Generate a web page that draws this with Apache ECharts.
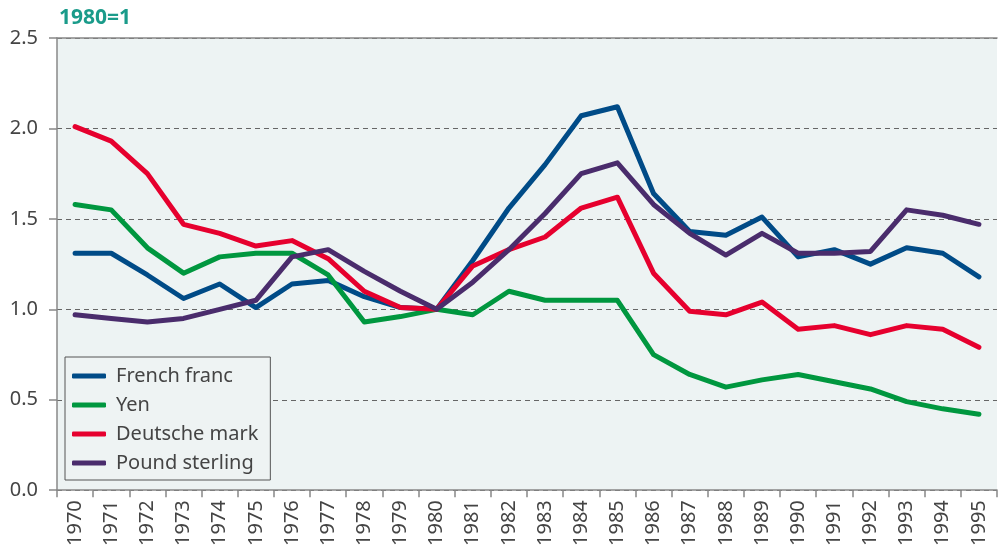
<!DOCTYPE html>
<html>
<head>
<meta charset="utf-8">
<script src="https://cdn.jsdelivr.net/npm/echarts@6/dist/echarts.min.js"></script>
<style>
html,body{margin:0;padding:0;background:#fff;}
#chart{width:1000px;height:549px;}
</style>
</head>
<body>
<div id="chart"></div>
<script>
var years = ['1970','1971','1972','1973','1974','1975','1976','1977','1978','1979','1980','1981','1982','1983','1984','1985','1986','1987','1988','1989','1990','1991','1992','1993','1994','1995'];
var frenchFranc = [1.31,1.31,1.19,1.06,1.14,1.01,1.14,1.16,1.07,1.01,1.00,1.27,1.56,1.80,2.07,2.12,1.64,1.43,1.41,1.51,1.29,1.33,1.25,1.34,1.31,1.18];
var yen = [1.58,1.55,1.34,1.20,1.29,1.31,1.31,1.19,0.93,0.96,1.00,0.97,1.10,1.05,1.05,1.05,0.75,0.64,0.57,0.61,0.64,0.60,0.56,0.49,0.45,0.42];
var deutscheMark = [2.01,1.93,1.75,1.47,1.42,1.35,1.38,1.28,1.10,1.01,1.00,1.24,1.33,1.40,1.56,1.62,1.20,0.99,0.97,1.04,0.89,0.91,0.86,0.91,0.89,0.79];
var poundSterling = [0.97,0.95,0.93,0.95,1.00,1.05,1.29,1.33,1.21,1.10,1.00,1.15,1.33,1.53,1.75,1.81,1.58,1.42,1.30,1.42,1.31,1.31,1.32,1.55,1.52,1.47];
var yTicks = [0, 0.5, 1.0, 1.5, 2.0, 2.5];
var unitLabel = '1980=1';

var seriesDefs = [
  {name:'French franc', data:frenchFranc, color:'#004b87'},
  {name:'Yen', data:yen, color:'#00973f'},
  {name:'Deutsche mark', data:deutscheMark, color:'#e6002e'},
  {name:'Pound sterling', data:poundSterling, color:'#4a2c6c'}
];

var FONT = '"Noto Sans", sans-serif';
var chart = echarts.init(document.getElementById('chart'), null, {renderer:'canvas'});
chart.setOption({
  animation:false,
  title:{text:unitLabel, left:54, top:3, textStyle:{color:'#1a9b8a', fontSize:21, fontWeight:'bold', fontFamily:FONT}},
  grid:{left:57, right:3, top:38, bottom:58, show:true, backgroundColor:'#edf3f3', borderWidth:0, containLabel:false},
  legend:{
    orient:'vertical', left:65, top:357,
    data:seriesDefs.map(function(s){return {name:s.name, icon:'roundRect'};}),
    itemWidth:34, itemHeight:5, itemGap:7,
    padding:[8,12,6,7],
    borderColor:'#555', borderWidth:1, backgroundColor:'#eef3f3',
    textStyle:{fontSize:20, color:'#444', fontFamily:FONT, lineHeight:22, padding:[0,0,0,5]}
  },
  xAxis:[{
    type:'category', data:years, boundaryGap:true,
    axisLine:{lineStyle:{color:'#888', width:1.5}},
    axisTick:{show:true, length:7, alignWithLabel:false, lineStyle:{color:'#888', width:1.5}},
    axisLabel:{rotate:90, fontSize:20, color:'#444', fontFamily:FONT, margin:10, interval:0},
    splitLine:{show:false}
  },{
    type:'category', data:years, position:'top', gridIndex:0,
    axisLine:{show:true, lineStyle:{color:'#888', width:1.5}},
    axisTick:{show:false}, axisLabel:{show:false}, splitLine:{show:false}
  }],
  yAxis:{
    type:'value', min:0, max:2.5, interval:0.5,
    axisLine:{show:true, lineStyle:{color:'#888', width:1.5}},
    axisTick:{show:true, length:8, lineStyle:{color:'#888', width:1.5}},
    axisLabel:{fontSize:20, color:'#444', fontFamily:FONT, margin:19, formatter:function(v){return yTicks.indexOf(v)>=0 ? v.toFixed(1) : '';}},
    splitLine:{show:true, lineStyle:{color:'#666', type:[5,4], width:1.2}}
  },
  series:seriesDefs.map(function(s){
    return {name:s.name, type:'line', data:s.data, xAxisIndex:0, symbol:'none', color:s.color,
      lineStyle:{width:5, color:s.color, cap:'round', join:'round'}};
  })
});
</script>
</body>
</html>
